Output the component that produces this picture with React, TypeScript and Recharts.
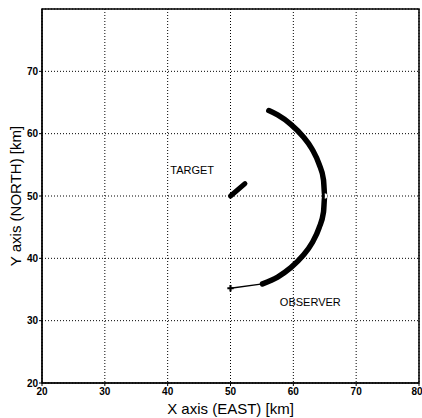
import React from "react";
import {
  ComposedChart,
  Line,
  Scatter,
  XAxis,
  YAxis,
  ZAxis,
  CartesianGrid,
  ReferenceArea,
  ReferenceDot,
} from "recharts";

const xTicks = [20, 30, 40, 50, 60, 70, 80];
const yTicks = [20, 30, 40, 50, 60, 70];

// observer start leg (thin)
const observerLeg = [
  { x: 50, y: 35.2 },
  { x: 55.1, y: 35.9 },
];

// observer turn (thick arc around target)
const observerArc = [
  { x: 55.1, y: 35.9 },
  { x: 57.5, y: 37.0 },
  { x: 59.6, y: 38.5 },
  { x: 61.5, y: 40.4 },
  { x: 63.0, y: 42.5 },
  { x: 64.1, y: 44.9 },
  { x: 64.8, y: 47.4 },
  { x: 65.0, y: 50.0 },
  { x: 64.8, y: 52.6 },
  { x: 64.1, y: 55.1 },
  { x: 63.0, y: 57.5 },
  { x: 61.5, y: 59.6 },
  { x: 59.6, y: 61.5 },
  { x: 57.5, y: 63.0 },
  { x: 56.1, y: 63.7 },
];

const targetTrack = [
  { x: 50, y: 50 },
  { x: 52.3, y: 52.0 },
];

const startMark = [{ x: 50, y: 35.2 }];

const annotations = [
  { x: 43.9, y: 54.1, text: "TARGET" },
  { x: 62.7, y: 32.9, text: "OBSERVER" },
];

const font = "'Liberation Sans', Arial, sans-serif";

export default function App() {
  return (
    <div style={{ position: "absolute", left: 0, top: 0, fontFamily: font }}>
      <ComposedChart
        width={422}
        height={418}
        margin={{ top: 9, right: 3, bottom: 0, left: 0 }}
      >
        <CartesianGrid stroke="#000" strokeDasharray="1 2" strokeWidth={1} />
        <XAxis
          type="number"
          dataKey="x"
          domain={[20, 80]}
          ticks={xTicks}
          allowDataOverflow
          height={35}
          tickSize={3}
          tickMargin={2}
          stroke="#000"
          tick={{ fill: "#000", fontSize: 10, fontWeight: 700, fontFamily: font }}
          label={{
            value: "X axis (EAST) [km]",
            position: "insideBottom",
            offset: 4,
            fill: "#000",
            fontSize: 15,
            fontFamily: font,
          }}
        />
        <YAxis
          type="number"
          dataKey="y"
          domain={[20, 80]}
          ticks={yTicks}
          allowDataOverflow
          width={42}
          tickSize={3}
          tickMargin={1}
          stroke="#000"
          tick={{ fill: "#000", fontSize: 10, fontWeight: 700, fontFamily: font }}
          label={{
            value: "Y axis (NORTH) [km]",
            angle: -90,
            position: "insideLeft",
            offset: 16,
            style: { textAnchor: "middle" },
            fill: "#000",
            fontSize: 15,
            fontFamily: font,
          }}
        />
        <ZAxis range={[22, 22]} />
        <ReferenceArea x1={20} x2={80} y1={20} y2={80} fill="none" stroke="#000" strokeWidth={1.5} />
        <Line
          data={observerLeg}
          dataKey="y"
          type="linear"
          stroke="#000"
          strokeWidth={1.3}
          dot={false}
          isAnimationActive={false}
        />
        <Line
          data={observerArc}
          dataKey="y"
          type="monotone"
          stroke="#000"
          strokeWidth={5.5}
          strokeLinecap="round"
          dot={false}
          isAnimationActive={false}
        />
        <Line
          data={targetTrack}
          dataKey="y"
          type="linear"
          stroke="#000"
          strokeWidth={5}
          strokeLinecap="round"
          dot={false}
          isAnimationActive={false}
        />
        <Scatter data={startMark} shape="cross" fill="#000" isAnimationActive={false} />
        {annotations.map((a) => (
          <ReferenceDot
            key={a.text}
            x={a.x}
            y={a.y}
            r={0}
            fill="none"
            stroke="none"
            label={{ value: a.text, position: "center", fill: "#000", fontSize: 11, fontFamily: font }}
          />
        ))}
      </ComposedChart>
    </div>
  );
}
